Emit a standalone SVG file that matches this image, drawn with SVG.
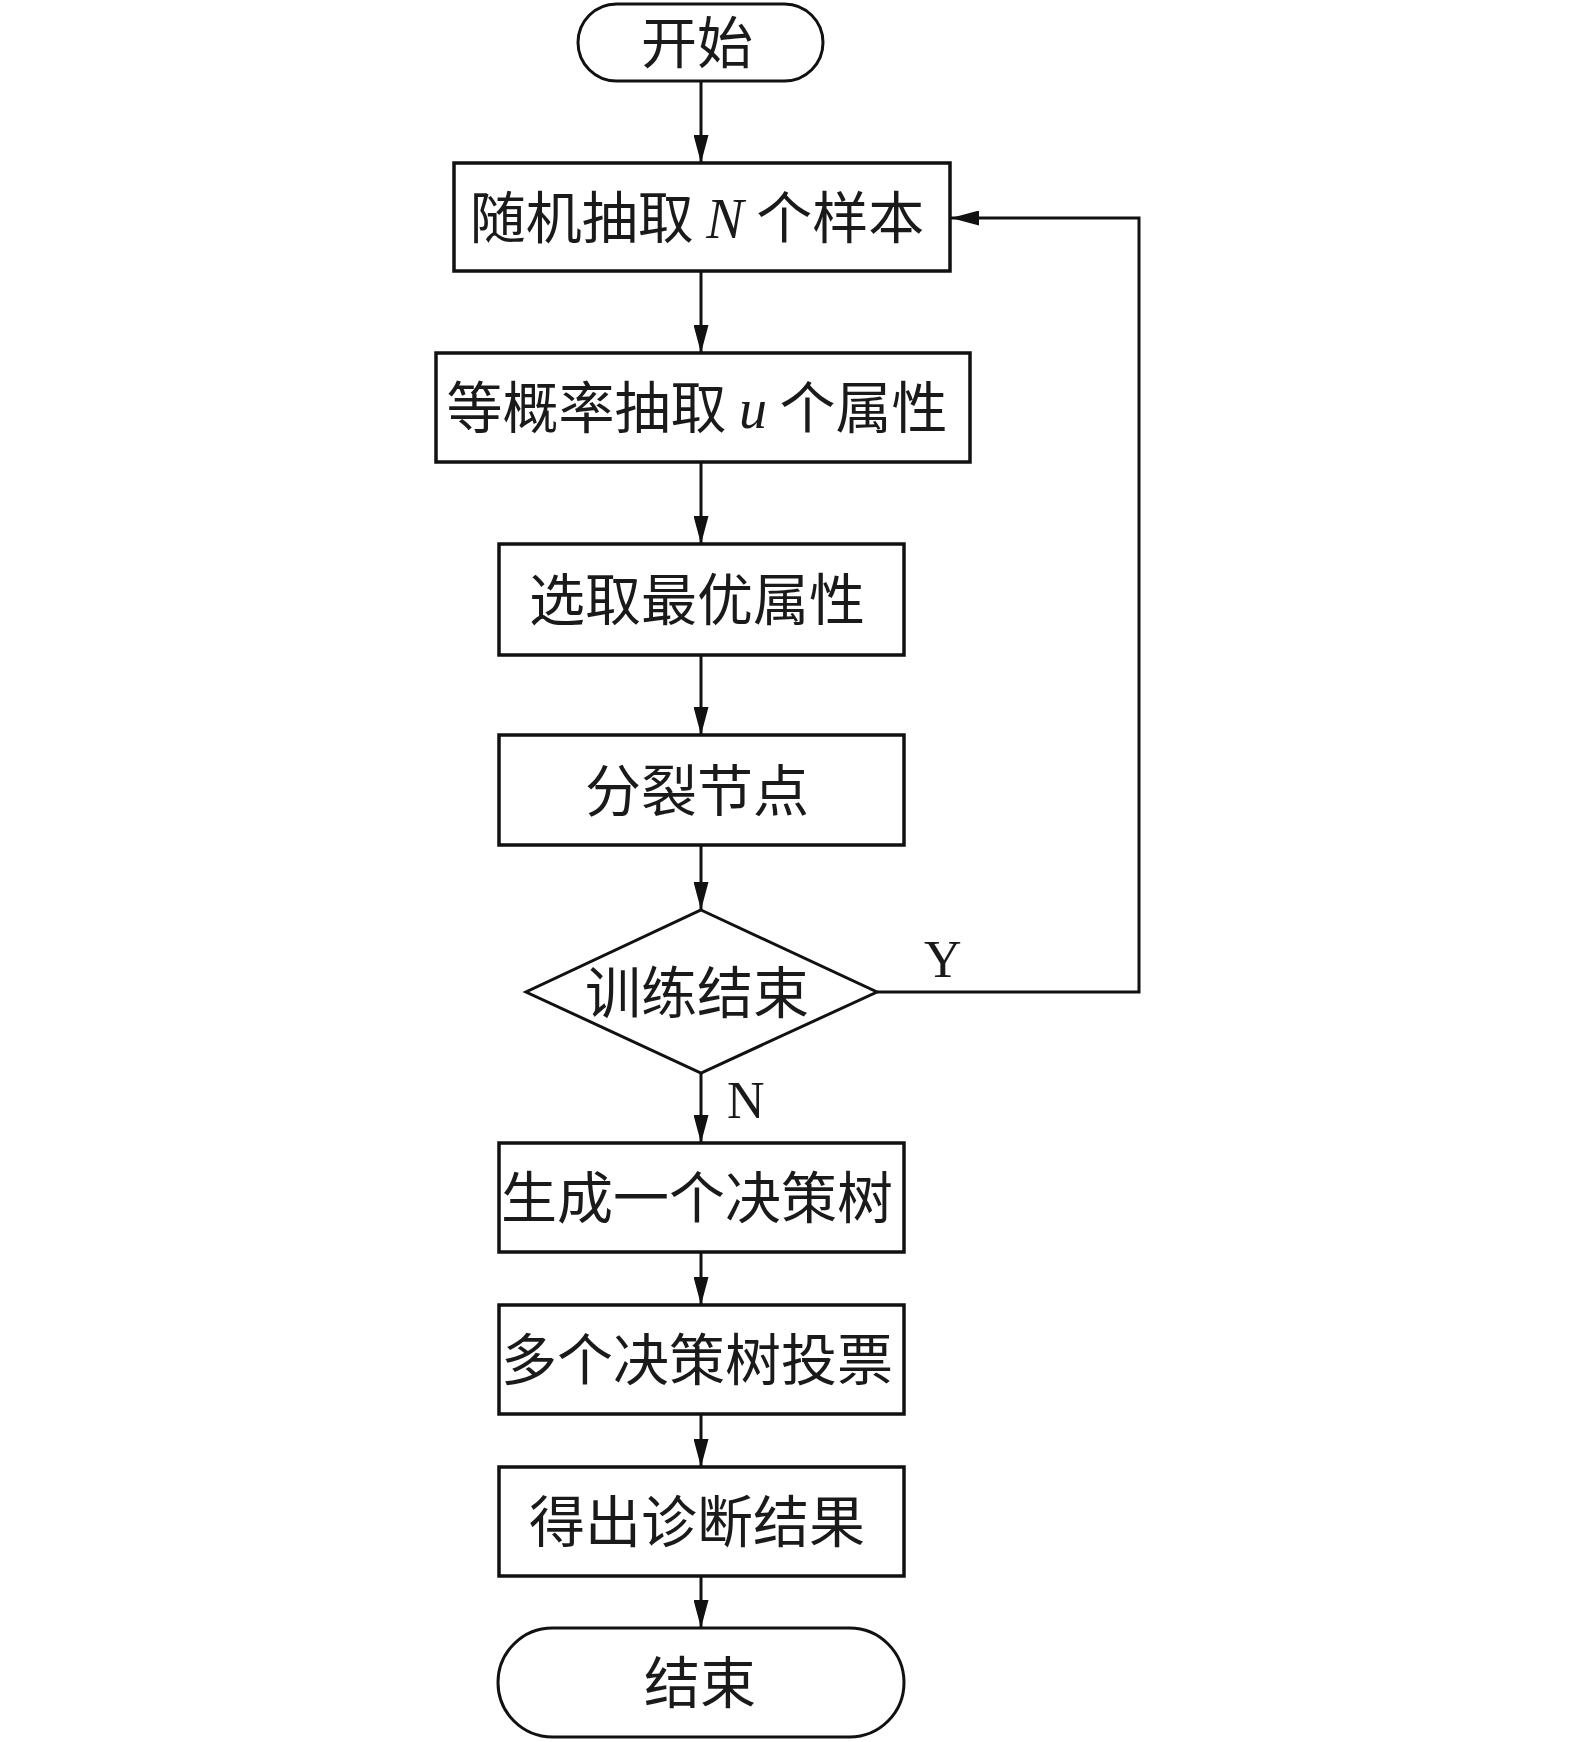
<svg xmlns="http://www.w3.org/2000/svg" width="1575" height="1742" viewBox="0 0 1575 1742">
<style>
.box{fill:#fff;stroke:#111;stroke-width:3.5}
.term{fill:#fff;stroke:#111;stroke-width:3}
.edge{fill:none;stroke:#111;stroke-width:3}
.t{font-family:"Noto Sans CJK SC","Noto Sans",sans-serif;font-size:56px;fill:#1a1a1a;text-anchor:middle}
.lat{font-family:"Liberation Serif",serif;font-style:italic}
.lbl{font-family:"Liberation Serif",serif;font-size:52px;fill:#1a1a1a}
</style>
<defs>
<marker id="ah" viewBox="0 0 28 15" refX="28" refY="7.5" markerWidth="28" markerHeight="15" markerUnits="userSpaceOnUse" orient="auto">
<path d="M0,0 L28,7.5 L0,15 Z" fill="#111"/>
</marker>
</defs>
<g id="connectors">
<line class="edge" x1="701" y1="81" x2="701" y2="163" marker-end="url(#ah)"/>
<line class="edge" x1="701" y1="271" x2="701" y2="353" marker-end="url(#ah)"/>
<line class="edge" x1="701" y1="462" x2="701" y2="544" marker-end="url(#ah)"/>
<line class="edge" x1="701" y1="655" x2="701" y2="735" marker-end="url(#ah)"/>
<line class="edge" x1="701" y1="845" x2="701" y2="910" marker-end="url(#ah)"/>
<line class="edge" x1="701" y1="1073" x2="701" y2="1143" marker-end="url(#ah)"/>
<line class="edge" x1="701" y1="1252" x2="701" y2="1305" marker-end="url(#ah)"/>
<line class="edge" x1="701" y1="1414" x2="701" y2="1467" marker-end="url(#ah)"/>
<line class="edge" x1="701" y1="1576" x2="701" y2="1628" marker-end="url(#ah)"/>
<polyline class="edge" points="877,992 1139,992 1139,218 951,218" marker-end="url(#ah)"/>
<text class="lbl" x="924" y="977">Y</text>
<text class="lbl" x="727" y="1118">N</text>
</g>
<g id="start">
<rect class="term" x="578" y="4" width="245" height="77" rx="38.5"/>
<text class="t" x="697" y="63">开始</text>
</g>
<g id="sample">
<rect class="box" x="454" y="163" width="496" height="108"/>
<text class="t" x="697" y="238">随机抽取 <tspan class="lat">N</tspan> 个样本</text>
</g>
<g id="attr">
<rect class="box" x="436" y="353" width="534" height="109"/>
<text class="t" x="697" y="428">等概率抽取 <tspan class="lat">u</tspan> 个属性</text>
</g>
<g id="best">
<rect class="box" x="499" y="544" width="405" height="111"/>
<text class="t" x="697" y="620">选取最优属性</text>
</g>
<g id="split">
<rect class="box" x="499" y="735" width="405" height="110"/>
<text class="t" x="697" y="811">分裂节点</text>
</g>
<g id="decision">
<polygon class="term" points="701,910 877,992 701,1073 526,992"/>
<text class="t" x="697" y="1013">训练结束</text>
</g>
<g id="tree">
<rect class="box" x="499" y="1143" width="405" height="109"/>
<text class="t" x="697" y="1218">生成一个决策树</text>
</g>
<g id="vote">
<rect class="box" x="499" y="1305" width="405" height="109"/>
<text class="t" x="697" y="1380">多个决策树投票</text>
</g>
<g id="result">
<rect class="box" x="499" y="1467" width="405" height="109"/>
<text class="t" x="697" y="1542">得出诊断结果</text>
</g>
<g id="end">
<rect class="term" x="498" y="1628" width="406" height="109" rx="54.5"/>
<text class="t" x="700" y="1703">结束</text>
</g>
</svg>
